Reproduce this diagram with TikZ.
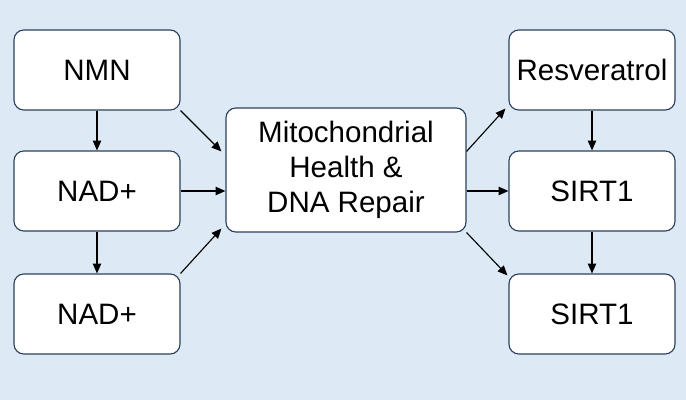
\documentclass[tikz,border=0pt]{standalone}
\usepackage{fontspec}
\setmainfont{Liberation Sans}
\usetikzlibrary{positioning, arrows.meta, calc}
\definecolor{bgblue}{HTML}{DDEAF6}
\definecolor{edgeblue}{HTML}{2B3F5E}
\tikzset{
  stepbox/.style={draw=edgeblue, fill=white, thick, rounded corners=7pt,
    minimum width=4.15cm, minimum height=2cm, font=\fontsize{21}{25}\selectfont},
  hubbox/.style={stepbox, minimum width=6cm, minimum height=3.1cm, align=center},
  link/.style={-{Triangle[length=7pt,width=6pt]}, thick, black}
}
\begin{document}
\begin{tikzpicture}[x=0.025cm, y=-0.025cm]
    % Background
    \fill[bgblue] (0,0) rectangle (686,400);
    \useasboundingbox (0,0) rectangle (686,400);

    % Left column
    \node[stepbox] (nmn) at (97,70) {NMN};
    \node[stepbox] (nad1) at (97,191) {NAD+};
    \node[stepbox] (nad2) at (97,314) {NAD+};

    % Hub
    \node[hubbox] (hub) at (346,170) {Mitochondrial\\Health \&\\DNA Repair};

    % Right column
    \node[stepbox] (res) at (592,70) {Resveratrol};
    \node[stepbox] (sirt1) at (592,191) {SIRT1};
    \node[stepbox] (sirt2) at (592,314) {SIRT1};

    % Arrows
    \draw[link] (nmn.south east) -- ($(hub.north west)+(-4,44)$);
    \draw[link] (nmn) -- (nad1);
    \draw[link] (nad1) -- (nad2);
    \draw[link] (nad1.east) -- (hub.west |- nad1.east);
    \draw[link] (nad2.north east) -- ($(hub.south west)+(-4,-4)$);
    \draw[link] ($(hub.north east)+(0,44)$) -- ($(res.south west)+(-3,-2)$);
    \draw[link] (hub.east |- sirt1.west) -- (sirt1.west);
    \draw[link] (hub.south east) -- ($(sirt2.north west)+(-1,2)$);
    \draw[link] (res) -- (sirt1);
    \draw[link] (sirt1) -- (sirt2);
\end{tikzpicture}
\end{document}
